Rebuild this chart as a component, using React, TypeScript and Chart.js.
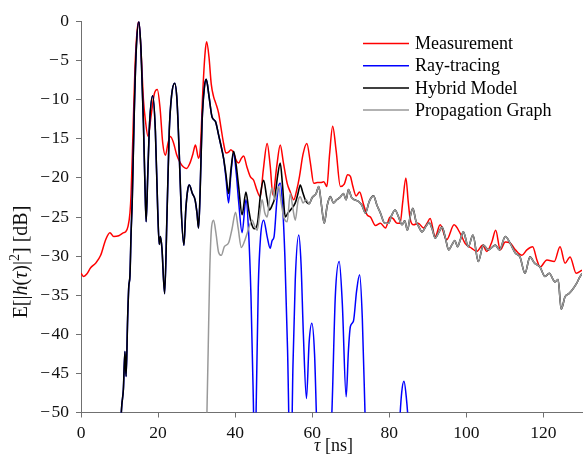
import React, { useEffect, useRef } from "react";
import { Chart, registerables } from "chart.js";

Chart.register(...registerables);

// ---- data: [tau (ns), power (dB)] ----
const xTicks = [0, 20, 40, 60, 80, 100, 120];
const yTicks = [0, -5, -10, -15, -20, -25, -30, -35, -40, -45, -50];

const legendLabels = ["Measurement", "Ray-tracing", "Hybrid Model", "Propagation Graph"];
const legendColors = ["#ff0000", "#0000ff", "#000000", "#999999"];

const measurement: [number, number][] = [
  [0, -32.2], [0.7, -32.6], [1.5, -32.3], [2.5, -31.5], [3.8, -30.9], [5.1, -29.9], [6.4, -27.9],
  [7.5, -27.0], [8.5, -27.5], [9.8, -27.4], [11.1, -27.0], [11.6, -26.9], [12.2, -26.2], [12.7, -24.5],
  [13.0, -22], [13.5, -14], [14.0, -6], [14.5, -1.5], [15.0, 0], [15.6, -4], [16.2, -10], [16.7, -12.6],
  [17.4, -14.7], [18.2, -12], [19.0, -9.3], [19.8, -8.7], [20.5, -11], [21.2, -15.5], [21.9, -17.1],
  [22.6, -15.5], [23.2, -14.7], [24.0, -15.5], [24.8, -17], [25.8, -18.1], [26.6, -18.6], [27.4, -18.8],
  [28.2, -18.2], [29.0, -17], [29.7, -15.8], [30.5, -17.5], [31.0, -16], [31.6, -9], [32.2, -4],
  [32.6, -2.6], [33.2, -4.5], [33.8, -8], [34.4, -9.6], [35.0, -10.5], [35.7, -11.7], [36.3, -13.5],
  [37.0, -15.6], [37.6, -16.8], [38.3, -16.7], [38.9, -16.4], [39.6, -16.8], [40.3, -17.8], [40.9, -18.1],
  [41.6, -17.5], [42.2, -17.2], [43.0, -18.5], [43.9, -19.8], [44.8, -20.3], [45.6, -21.5], [46.5, -22.4],
  [47.3, -19], [48.3, -15.6], [49.1, -18.5], [49.8, -22.2], [50.8, -18.5], [51.7, -15.8], [52.5, -18],
  [53.5, -20.7], [54.3, -21.8], [55.2, -22.8], [56.0, -21.5], [56.7, -19.8], [57.6, -17], [58.6, -15.6],
  [59.5, -18], [60.4, -20.7], [61.3, -20.6], [62.2, -20.6], [63.0, -20.5], [63.8, -21.1], [64.5, -17],
  [65.3, -13.4], [66.2, -16.5], [67.3, -21.1], [68.3, -20.8], [69.2, -19.6], [69.9, -19.8], [70.5, -21],
  [71.4, -22.3], [72.3, -21.8], [73.2, -23.2], [74.2, -24.7], [75.1, -25.0], [76.4, -26.1], [77.7, -25.8],
  [79.0, -26.4], [80.2, -25.0], [81.0, -25.2], [82.0, -25.8], [82.8, -25.8], [83.5, -23], [84.3, -20.0],
  [84.9, -23], [85.4, -25.2], [86.3, -26.0], [87.5, -25.8], [88.9, -26.4], [89.8, -25.8], [90.6, -25.2],
  [91.9, -27.5], [93.2, -26.0], [94.9, -27.9], [96.8, -26.0], [98.4, -27.1], [99.7, -28.4], [101.4, -29.0],
  [102.7, -29.4], [104.2, -28.6], [105.3, -29.4], [106.6, -28.2], [107.6, -26.7], [108.8, -29.2],
  [110.1, -28.2], [111.3, -28.3], [112.7, -29.2], [114.4, -29.9], [115.7, -29.2], [117.2, -28.8],
  [118.3, -30.5], [119.1, -31.4], [120.9, -30.5], [122.8, -30.7], [124.3, -28.8], [125.6, -30.9],
  [126.9, -30.1], [128.5, -32.2], [130, -31.8],
];

const hybridHead: [number, number][] = [
  [10.2, -52], [10.6, -49], [11.0, -47], [11.4, -42.2], [11.7, -45.4], [12.1, -38], [12.4, -33.9],
  [12.7, -32.5], [13.0, -27], [13.3, -22.8], [13.8, -12], [14.3, -4], [15.0, 0], [15.6, -4], [16.2, -13],
  [16.6, -21], [16.9, -25.6], [17.3, -20], [17.8, -13], [18.6, -9.5], [19.3, -14], [19.9, -24],
  [20.3, -28.5], [20.6, -27.5], [21.0, -29], [21.7, -34.8], [22.3, -25], [22.9, -14], [23.5, -9.5],
  [24.3, -7.9], [24.9, -10], [25.5, -17], [26.0, -24], [26.7, -28.6], [27.2, -24], [27.7, -21.5],
  [28.1, -20.9], [28.9, -22], [29.6, -22.8], [30.1, -24.5], [30.5, -26.4], [30.9, -22], [31.4, -13],
  [32.0, -8.5], [32.5, -7.4], [33.2, -9.5], [34.0, -12.2], [34.9, -12.8], [35.7, -14.5], [36.2, -15.6],
  [37.0, -17.5], [37.6, -19.5], [38.3, -22], [38.9, -19], [39.6, -16.6], [40.3, -18.5], [40.9, -21.1],
  [41.8, -24.7], [42.8, -21.8], [43.5, -24], [44.1, -25.6], [45.0, -26.5], [45.8, -25.8], [46.6, -22],
  [47.4, -20.3], [48.2, -22.5], [48.9, -24.1], [49.6, -23.5], [50.3, -22.5], [51.0, -19.8], [51.7, -18.1],
  [52.3, -21], [53.0, -25], [53.7, -24.5], [54.5, -24], [55.6, -23.2], [56.3, -22], [56.9, -20.9],
  [57.5, -21.8], [58.2, -22.8],
];

const rayTail: [number, number][] = [
  [37.6, -20], [38.3, -23.2], [38.9, -19.5], [39.6, -16.8], [40.3, -19.5], [40.9, -23], [41.8, -27],
  [42.8, -22.8], [43.5, -27], [44.1, -35], [44.7, -48], [45.1, -58], [45.5, -48], [46.0, -34],
  [46.6, -27.5], [47.4, -25.4], [48.3, -27.5], [49.1, -29], [49.6, -28], [50.1, -27.5], [50.8, -23],
  [51.2, -21.2], [51.7, -20.7], [52.3, -23.5], [52.9, -30], [53.6, -42], [54.4, -60], [55.0, -44],
  [55.6, -33], [56.5, -27.3], [57.1, -31], [57.7, -40], [58.5, -48.2], [59.2, -41], [59.9, -38.6],
  [60.6, -42.5], [61.2, -52], [63, -70], [65.1, -50], [66.0, -35], [67.0, -30.7], [67.8, -36],
  [68.8, -48], [69.4, -42], [69.9, -39], [70.7, -38.3], [71.5, -34.5], [72.3, -32.4], [73.0, -38],
  [73.8, -52], [75, -70], [81, -70], [82.6, -52], [83.2, -47.5], [83.8, -46], [84.4, -48], [85.0, -52],
  [86.5, -70],
];

const propagationGraph: [number, number][] = [
  [32.6, -52], [33.0, -42], [33.4, -32], [33.9, -26.2], [34.4, -25.4], [35.0, -27], [35.7, -29.5],
  [36.4, -29.9], [37.2, -28.8], [38.3, -28.3], [39.2, -26.5], [40.1, -24.4], [40.8, -26.5], [41.6, -28.9],
  [42.5, -28], [43.1, -27.1], [44.4, -25.4], [45.1, -26.2], [45.7, -26.7], [46.4, -24.5], [47.0, -22.8],
  [47.7, -24.5], [48.3, -25.0], [49.0, -22.5], [49.6, -21.3], [50.3, -22.8], [51.3, -21.1], [51.9, -23],
  [52.6, -25.0], [53.5, -25.6], [54.3, -22], [55.0, -24], [55.6, -25.4], [56.3, -23], [56.9, -22.4],
  [57.6, -23.2], [58.4, -22.8], [59.2, -23.3], [60.0, -22.5], [61.0, -22], [61.7, -21.1], [62.4, -23.5],
  [63.1, -25.8], [63.9, -23.5], [64.7, -22.4], [65.5, -23.2], [66.3, -22.8], [67.2, -22.5], [68.1, -22],
  [68.8, -22.8], [69.4, -21.5], [70.2, -22.5], [71.0, -22.8], [72.0, -23], [72.9, -23.5], [73.8, -24.5],
  [74.8, -23], [75.9, -22.3], [76.8, -23.5], [77.7, -24.5], [78.8, -25.8], [79.8, -25.8], [80.6, -24.8],
  [81.5, -24.1], [82.4, -25], [83.3, -26.0], [84.0, -25.5], [84.7, -26.7], [85.4, -25], [86.1, -23.9],
  [86.9, -25.5], [87.6, -26.2], [88.5, -26.9], [89.5, -26.2], [90.3, -25.7], [91.1, -26.5], [91.9, -27.7],
  [92.8, -27], [93.7, -26.3], [94.6, -27.8], [95.4, -29.2], [96.3, -28.5], [97.0, -28.0], [97.7, -28.8],
  [98.5, -27.8], [99.2, -26.9], [100.5, -28.8], [101.7, -27.3], [103.1, -30.7], [104.4, -28.6],
  [105.7, -29.2], [107.5, -28.6], [108.6, -29.2], [110.1, -27.5], [111.4, -28.4], [112.7, -29.6],
  [113.9, -30.1], [115.2, -32.2], [116.5, -30.1], [117.7, -30.9], [119.1, -31.4], [120.4, -32.6],
  [121.5, -32.2], [123.0, -33.3], [123.8, -33], [124.6, -36.8], [125.6, -35.2], [126.6, -34.8],
  [127.5, -34.3], [128.6, -33.5], [129.3, -32.8], [130, -32.2],
];

// ---- styling ----
const FONT = '"Liberation Serif", "Times New Roman", serif';
const AXIS_COLOR = "#707070";

const toPts = (arr: [number, number][]) => arr.map(([x, y]) => ({ x, y }));

const hybridData = toPts(hybridHead).concat(
  toPts(propagationGraph).filter((p) => p.x >= 59.2)
);
const rayData = toPts(hybridHead)
  .filter((p) => p.x <= 37.0)
  .concat(toPts(rayTail));

const fmt = (v: number) => (v < 0 ? "\u2212\u200A" + Math.abs(v) : String(v));

type Seg = { t: string; it?: boolean; sup?: boolean };

function drawSegs(ctx: CanvasRenderingContext2D, segs: Seg[], size: number, centerX: number, baseY: number) {
  const fontOf = (s: Seg) =>
    `${s.it ? "italic " : ""}${s.sup ? size * 0.7 : size}px ${FONT}`;
  let total = 0;
  for (const s of segs) {
    ctx.font = fontOf(s);
    total += ctx.measureText(s.t).width;
  }
  let x = centerX - total / 2;
  ctx.textBaseline = "alphabetic";
  ctx.textAlign = "left";
  for (const s of segs) {
    ctx.font = fontOf(s);
    ctx.fillText(s.t, x, s.sup ? baseY - size * 0.4 : baseY);
    x += ctx.measureText(s.t).width;
  }
}

const decorPlugin = {
  id: "decor",
  afterDraw(chart: any) {
    const ctx: CanvasRenderingContext2D = chart.ctx;
    const area = chart.chartArea;
    ctx.save();
    ctx.fillStyle = "#111";
    // x title
    drawSegs(ctx, [{ t: "\u03c4", it: true }, { t: " [ns]" }], 18, (area.left + area.right) / 2 + 2, 451);
    // y title
    ctx.save();
    ctx.translate(27, 262);
    ctx.rotate(-Math.PI / 2);
    drawSegs(
      ctx,
      [
        { t: "E[|" },
        { t: "h", it: true },
        { t: "(" },
        { t: "\u03c4", it: true },
        { t: ")|" },
        { t: "2", sup: true },
        { t: "] [dB]" },
      ],
      20,
      0,
      0
    );
    ctx.restore();

    // legend
    ctx.font = `18px ${FONT}`;
    ctx.textBaseline = "middle";
    ctx.textAlign = "left";
    legendLabels.forEach((lab, i) => {
      const y = 43.5 + 22.2 * i;
      ctx.strokeStyle = legendColors[i];
      ctx.lineWidth = 1.5;
      ctx.beginPath();
      ctx.moveTo(363, y);
      ctx.lineTo(409, y);
      ctx.stroke();
      ctx.fillStyle = "#000";
      ctx.fillText(lab, 415, y + 1);
    });
    ctx.restore();
  },
};

export default function App() {
  const ref = useRef<HTMLCanvasElement | null>(null);

  useEffect(() => {
    if (!ref.current) return;
    const common = {
      borderWidth: 1.5,
      pointRadius: 0,
      fill: false,
      cubicInterpolationMode: "monotone" as const,
    };
    const chart = new Chart(ref.current, {
      type: "line",
      data: {
        datasets: [
          { ...common, label: legendLabels[0], data: toPts(measurement), borderColor: legendColors[0], order: 3 },
          { ...common, label: legendLabels[1], data: rayData, borderColor: legendColors[1], order: 2 },
          { ...common, label: legendLabels[2], data: hybridData, borderColor: legendColors[2], order: 1, borderWidth: 1.6 },
          { ...common, label: legendLabels[3], data: toPts(propagationGraph), borderColor: legendColors[3], order: 0 },
        ],
      },
      options: {
        animation: false,
        responsive: false,
        layout: { padding: { top: 21.5, right: 1, bottom: 0, left: 0 } },
        plugins: { legend: { display: false }, tooltip: { enabled: false } },
        scales: {
          x: {
            type: "linear",
            min: 0,
            max: 130,
            afterBuildTicks: (s: any) => {
              s.ticks = xTicks.map((v) => ({ value: v }));
            },
            afterFit: (s: any) => {
              s.height = 53.5;
            },
            grid: { display: true, drawOnChartArea: false, drawTicks: true, tickLength: 5, color: AXIS_COLOR },
            border: { display: true, color: AXIS_COLOR, width: 1 },
            ticks: {
              font: { family: FONT, size: 17.5 },
              color: "#111",
              padding: 5,
              maxRotation: 0,
              autoSkip: false,
              callback: (v: any) => fmt(Number(v)),
            },
          },
          y: {
            type: "linear",
            min: -50,
            max: 0,
            afterBuildTicks: (s: any) => {
              s.ticks = yTicks.map((v) => ({ value: v }));
            },
            afterFit: (s: any) => {
              s.width = 81;
            },
            grid: { display: true, drawOnChartArea: false, drawTicks: true, tickLength: 5, color: AXIS_COLOR },
            border: { display: true, color: AXIS_COLOR, width: 1 },
            ticks: {
              font: { family: FONT, size: 17.5 },
              color: "#111",
              padding: 7,
              autoSkip: false,
              callback: (v: any) => fmt(Number(v)),
            },
          },
        },
      },
      plugins: [decorPlugin],
    });
    return () => chart.destroy();
  }, []);

  return (
    <div style={{ position: "fixed", left: 0, top: 0, width: 583, height: 466, background: "#fff" }}>
      <canvas ref={ref} width={583} height={466} style={{ display: "block", width: 583, height: 466 }} />
    </div>
  );
}
